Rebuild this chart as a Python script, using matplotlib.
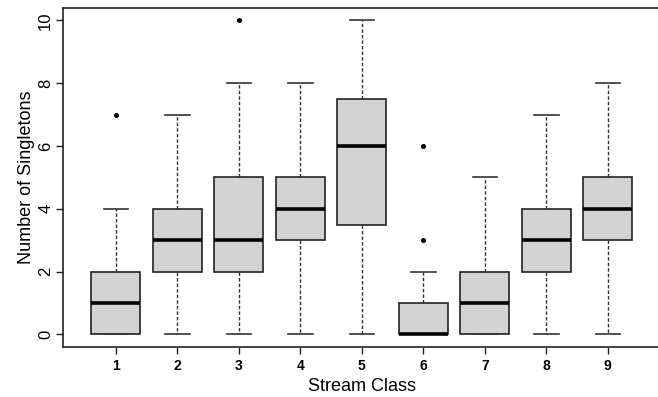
import matplotlib
matplotlib.use("Agg")
import matplotlib.pyplot as plt

plt.rcParams['font.family'] = ['Liberation Sans', 'DejaVu Sans']

# Box statistics
classes = [1, 2, 3, 4, 5, 6, 7, 8, 9]
whisker_lo = [0, 0, 0, 0, 0, 0, 0, 0, 0]
q1 = [0, 2, 2, 3, 3.5, 0, 0, 2, 3]
medians = [1, 3, 3, 4, 6, 0, 1, 3, 4]
q3 = [2, 4, 5, 5, 7.5, 1, 2, 4, 5]
whisker_hi = [4, 7, 8, 8, 10, 2, 5, 7, 8]
outliers = [[7], [], [10], [], [], [3, 6], [], [], []]

stats = []
for i in range(len(classes)):
    stats.append(dict(label=str(classes[i]), whislo=whisker_lo[i], q1=q1[i],
                      med=medians[i], q3=q3[i], whishi=whisker_hi[i],
                      fliers=outliers[i]))

fig = plt.figure(figsize=(6.58, 3.97), dpi=100)
ax = fig.add_axes([0.0957, 0.126, 0.9085, 0.854])

ax.bxp(stats, positions=classes, widths=0.8, patch_artist=True,
       boxprops=dict(facecolor='#d3d3d3', edgecolor='#222222', linewidth=1.2),
       medianprops=dict(color='black', linewidth=2.6, solid_capstyle='butt'),
       whiskerprops=dict(color='#333333', linewidth=1.0, linestyle=(0, (2.5, 1.5))),
       capprops=dict(color='#333333', linewidth=1.2),
       capwidths=0.4,
       flierprops=dict(marker='o', markersize=2.6, markerfacecolor='black',
                       markeredgecolor='black'))

ax.set_xlim(0.14, 9.86)
ax.set_ylim(-0.4, 10.4)
ax.set_yticks([0, 2, 4, 6, 8, 10])
ax.set_xticks(classes)
ax.set_xticklabels([str(c) for c in classes], fontsize=10, fontweight='bold')
for lab in ax.get_yticklabels():
    lab.set_rotation(90)
    lab.set_va('center')
    lab.set_fontsize(12)
ax.tick_params(axis='both', length=5, width=1.0, color='#222222')
ax.tick_params(axis='x', pad=4)
ax.tick_params(axis='y', pad=2)

ax.spines['right'].set_visible(False)
for s in ['left', 'top', 'bottom']:
    ax.spines[s].set_linewidth(1.2)
    ax.spines[s].set_color('#222222')

ax.set_xlabel('Stream Class', fontsize=13, labelpad=3)
ax.set_ylabel('Number of Singletons', fontsize=13, labelpad=2)

fig.savefig('out.png', dpi=100)
